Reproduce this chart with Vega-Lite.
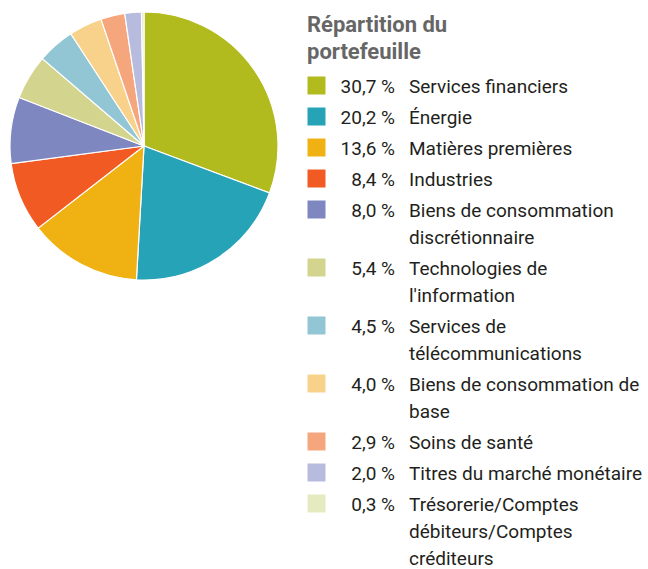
{
  "$schema": "https://vega.github.io/schema/vega-lite/v6.json",
  "width": 288,
  "height": 292,
  "padding": 0,
  "background": "white",
  "config": {
    "view": {"stroke": null},
    "font": "Roboto, sans-serif",
    "style": {"guide-label": {"lineHeight": 27, "dy": 7}}
  },
  "data": {
    "values": [
      {"etiquette": "30,7 %\nServices financiers", "part": 30.7},
      {"etiquette": "20,2 %\nÉnergie", "part": 20.2},
      {"etiquette": "13,6 %\nMatières premières", "part": 13.6},
      {"etiquette": "8,4 %\nIndustries", "part": 8.4},
      {"etiquette": "8,0 %\nBiens de consommation\ndiscrétionnaire", "part": 8.0},
      {"etiquette": "5,4 %\nTechnologies de\nl'information", "part": 5.4},
      {"etiquette": "4,5 %\nServices de\ntélécommunications", "part": 4.5},
      {"etiquette": "4,0 %\nBiens de consommation de\nbase", "part": 4.0},
      {"etiquette": "2,9 %\nSoins de santé", "part": 2.9},
      {"etiquette": "2,0 %\nTitres du marché monétaire", "part": 2.0},
      {"etiquette": "0,3 %\nTrésorerie/Comptes\ndébiteurs/Comptes\ncréditeurs", "part": 0.3}
    ]
  },
  "layer": [
    {
      "mark": {"type": "arc", "radius": 134, "stroke": "white", "strokeWidth": 1.2},
      "encoding": {
        "theta": {"field": "part", "type": "quantitative", "stack": true},
        "order": {"field": "part", "sort": "descending"},
        "color": {
          "field": "etiquette",
          "type": "nominal",
          "sort": null,
          "scale": {"range": ["#b2bb1e", "#27a3b8", "#f0b212", "#f15a22", "#7f87c1", "#d3d48e", "#92c6d5", "#f8d28a", "#f6a67c", "#b7bcde", "#e5eac0"]},
          "legend": {
            "orient": "none",
            "legendX": 307,
            "legendY": 15,
            "padding": 0,
            "title": ["Répartition du", "portefeuille"],
            "titleFontSize": 22,
            "titleFontWeight": "bold",
            "titleColor": "#666666",
            "titleLineHeight": 27,
            "titlePadding": 12,
            "titleAnchor": "start",
            "symbolType": "square",
            "symbolSize": 324,
            "symbolStrokeWidth": 0,
            "labelFontSize": 19,
            "labelColor": "#231f20",
            "labelAlign": "right",
            "labelOffset": 69,
            "labelBaseline": "alphabetic",
            "labelLimit": 0,
            "rowPadding": 10,
            "labelExpr": "split(split(datum.label, '\\n')[0] + replace(replace(slice(datum.label, indexof(datum.label, '\\n') + 1), regexp('[^\\n]', 'g'), ''), regexp('\\n', 'g'), '\\n '), '\\n')"
          }
        }
      }
    },
    {
      "mark": {"type": "arc", "radius": 134, "opacity": 0},
      "encoding": {
        "theta": {"field": "part", "type": "quantitative", "stack": true},
        "order": {"field": "part", "sort": "descending"},
        "color": {
          "field": "etiquette",
          "type": "nominal",
          "sort": null,
          "scale": {"range": ["#b2bb1e", "#27a3b8", "#f0b212", "#f15a22", "#7f87c1", "#d3d48e", "#92c6d5", "#f8d28a", "#f6a67c", "#b7bcde", "#e5eac0"]},
          "legend": {
            "orient": "none",
            "legendX": 382,
            "legendY": 76,
            "padding": 0,
            "title": null,
            "symbolType": "square",
            "symbolSize": 324,
            "symbolStrokeWidth": 0,
            "symbolOpacity": 0,
            "labelFontSize": 19,
            "labelColor": "#231f20",
            "labelOffset": 8,
            "labelBaseline": "alphabetic",
            "labelLimit": 0,
            "rowPadding": 10,
            "labelExpr": "slice(split(datum.label, '\\n'), 1)"
          }
        }
      }
    }
  ],
  "resolve": {"scale": {"color": "independent"}, "legend": {"color": "independent"}}
}
